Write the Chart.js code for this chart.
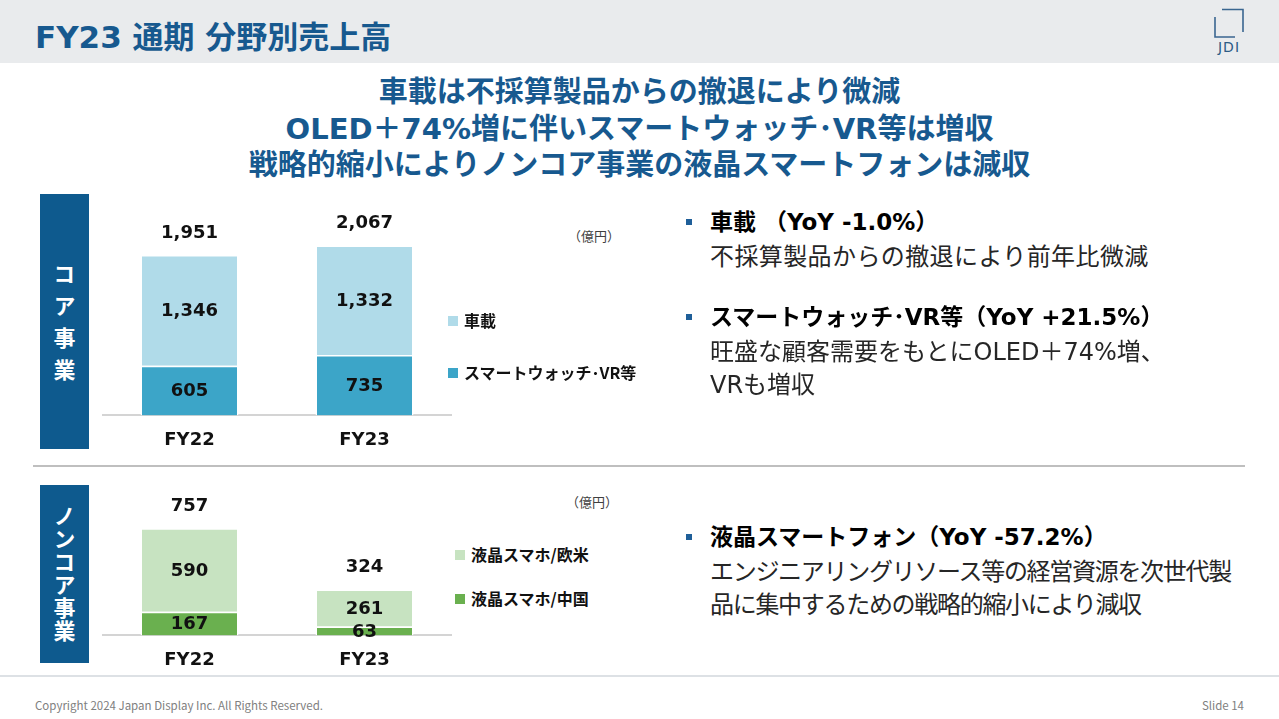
<!DOCTYPE html>
<html lang="ja">
<head>
<meta charset="utf-8">
<script src="https://cdn.jsdelivr.net/npm/chart.js@4.4.1/dist/chart.umd.min.js"></script>
<style>
  html, body { margin: 0; padding: 0; background: #fff; }
  body { width: 1279px; height: 719px; position: relative; overflow: hidden; font-family: 'Noto Sans CJK JP', sans-serif; }
  .abs { position: absolute; white-space: nowrap; }
  .mix { font-family: 'DejaVu Sans', 'Noto Sans CJK JP', sans-serif; }
  #header { left: 0; top: 0; width: 1279px; height: 63px; background: #e9ebed; }
  #title { left: 35px; top: 18px; line-height: 38px; font-size: 31px; font-weight: bold; color: #17598f; }
  .sub { left: 0; width: 1279px; text-align: center; font-size: 29px; font-weight: bold; color: #17598f; line-height: 34px; }
  .vbox { position: absolute; left: 40px; width: 49px; background: #0e5a8e; color: #fff; font-weight: bold; font-size: 22px;
          writing-mode: vertical-rl; text-orientation: upright; display: flex; align-items: center; justify-content: center; }
  .unit { font-size: 13px; color: #404040; }
  .legend { position: absolute; font-size: 16px; font-weight: bold; color: #111; line-height: 20px; }
  .legend span.sw { display: inline-block; width: 10px; height: 10px; margin-right: 6px; vertical-align: 1px; }
  .head { left: 710px; font-size: 23px; font-weight: bold; color: #000; line-height: 30px; }
  .body { left: 710px; font-size: 24px; color: #262626; line-height: 33px; }
  .bullet { position: absolute; left: 686px; width: 6px; height: 6px; background: #1f5f99; }
  .chart { position: absolute; }
  #foot1 { left: 35px; top: 697px; font-size: 11.5px; color: #808080; }
  #foot2 { right: 35px; top: 697px; font-size: 11.5px; color: #808080; }
</style>
</head>
<body>
<div id="header" class="abs"></div>
<div id="title" class="abs mix">FY23 通期 分野別売上高</div>
<svg class="abs" style="left:1210px;top:6px" width="40" height="50">
  <polyline points="12,3.5 33,3.5 33,26" fill="none" stroke="#3a6690" stroke-width="1.6"/>
  <polyline points="5,11 5,31 25,31" fill="none" stroke="#3a6690" stroke-width="1.6"/>
  <text x="19" y="46" text-anchor="middle" font-family="DejaVu Sans" font-size="14" letter-spacing="1" fill="#2d5b85">JDI</text>
</svg>

<div class="abs sub mix" style="top:75px">車載は不採算製品からの撤退により微減</div>
<div class="abs sub mix" style="top:112px">OLED＋74%増に伴いスマートウォッチ･VR等は増収</div>
<div class="abs sub mix" style="top:148px">戦略的縮小によりノンコア事業の液晶スマートフォンは減収</div>

<div class="vbox" style="top:194px;height:255px;letter-spacing:10px;padding-top:10px;box-sizing:border-box">コア事業</div>
<div class="vbox" style="top:485px;height:178px;letter-spacing:1px">ノンコア事業</div>

<div class="chart" style="left:102px;top:200px;width:350px;height:265px"><canvas id="coreChart"></canvas></div>
<div class="chart" style="left:102px;top:480px;width:350px;height:205px"><canvas id="nonCoreChart"></canvas></div>

<div class="abs unit" style="left:568px;top:226px">（億円）</div>
<div class="abs unit" style="left:566px;top:492px">（億円）</div>
<div id="coreLegend"></div>
<div id="nonCoreLegend"></div>

<div class="bullet" style="top:219px"></div>
<div class="abs head mix" style="top:207px">車載 （YoY -1.0%）</div>
<div class="abs body mix" style="top:241px;letter-spacing:0.4px">不採算製品からの撤退により前年比微減</div>
<div class="bullet" style="top:314px"></div>
<div class="abs head mix" style="top:302px">スマートウォッチ･VR等（YoY +21.5%）</div>
<div class="abs body mix" style="top:336px">旺盛な顧客需要をもとにOLED＋74%増、<br>VRも増収</div>
<div class="bullet" style="top:534px"></div>
<div class="abs head mix" style="top:522px">液晶スマートフォン（YoY -57.2%）</div>
<div class="abs body mix" style="top:556px;letter-spacing:-1.3px">エンジニアリングリソース等の経営資源を次世代製<br>品に集中するための戦略的縮小により減収</div>

<div class="abs" style="left:33px;top:465px;width:1212px;height:2px;background:#bfbfbf"></div>
<div class="abs" style="left:0;top:675px;width:1279px;height:2px;background:#dde1e5"></div>
<div id="foot1" class="abs">Copyright 2024 Japan Display Inc. All Rights Reserved.</div>
<div id="foot2" class="abs">Slide 14</div>

<script>
// ===== 데이터 =====
const years = ['FY22', 'FY23'];
const coreNames = ['スマートウォッチ･VR等', '車載'];
const watchVr = [605, 735];
const automotive = [1346, 1332];
const nonCoreNames = ['液晶スマホ/中国', '液晶スマホ/欧米'];
const lcdChina = [167, 63];
const lcdWest = [590, 261];

const coreColors = ['#3ca5c8', '#b0dbe9'];
const nonCoreColors = ['#6ab04f', '#c7e3c1'];
const NUM_FONT = "'DejaVu Sans', 'Noto Sans CJK JP', sans-serif";

// 막대 안/위 숫자
const valueLabels = {
    id: 'valueLabels',
    afterDatasetsDraw(chart) {
        const { ctx } = chart;
        const sets = chart.data.datasets;
        ctx.save();
        ctx.font = `bold 18px ${NUM_FONT}`;
        ctx.fillStyle = '#111';
        ctx.textAlign = 'center';
        ctx.textBaseline = 'middle';
        sets.forEach((ds, i) => {
            chart.getDatasetMeta(i).data.forEach((bar, j) => {
                ctx.fillText(ds.data[j].toLocaleString('en-US'), bar.x, (bar.y + bar.base) / 2 + 1);
            });
        });
        chart.getDatasetMeta(sets.length - 1).data.forEach((bar, j) => {
            const total = sets.reduce((s, ds) => s + ds.data[j], 0);
            ctx.fillText(total.toLocaleString('en-US'), bar.x, bar.y - 22);
        });
        ctx.restore();
    }
};

function makeStack(canvasId, names, series, colors, yMax) {
    return new Chart(document.getElementById(canvasId), {
        type: 'bar',
        data: {
            labels: years,
            datasets: series.map((data, i) => ({
                label: names[i],
                data,
                backgroundColor: colors[i],
                borderColor: '#ffffff',
                borderWidth: 1.5,
                borderSkipped: 'bottom',
                categoryPercentage: 1,
                barPercentage: 0.56
            }))
        },
        options: {
            responsive: true,
            maintainAspectRatio: false,
            animation: false,
            layout: { padding: 0 },
            scales: {
                x: {
                    stacked: true,
                    grid: { display: false, drawTicks: false },
                    border: { display: true, color: '#d4d4d4', width: 2 },
                    ticks: { color: '#111', padding: 14, font: { family: NUM_FONT, size: 18, weight: 'bold' } }
                },
                y: { stacked: true, display: false, min: 0, max: yMax }
            },
            plugins: { legend: { display: false }, tooltip: { enabled: false } }
        },
        plugins: [valueLabels]
    });
}

makeStack('coreChart', coreNames, [watchVr, automotive], coreColors, 2620);
makeStack('nonCoreChart', nonCoreNames, [lcdChina, lcdWest], nonCoreColors, 1097);

// 범례 (HTML)
function buildLegend(id, names, colors, left, tops) {
    const box = document.getElementById(id);
    names.forEach((name, i) => {
        const el = document.createElement('div');
        el.className = 'legend';
        el.style.left = left + 'px';
        el.style.top = (tops[i] - 10) + 'px';
        el.innerHTML = `<span class="sw" style="background:${colors[i]}"></span>${name}`;
        box.appendChild(el);
    });
}
buildLegend('coreLegend', coreNames, coreColors, 448, [372, 320]);
buildLegend('nonCoreLegend', nonCoreNames, nonCoreColors, 455, [598, 554]);
</script>
</body>
</html>
